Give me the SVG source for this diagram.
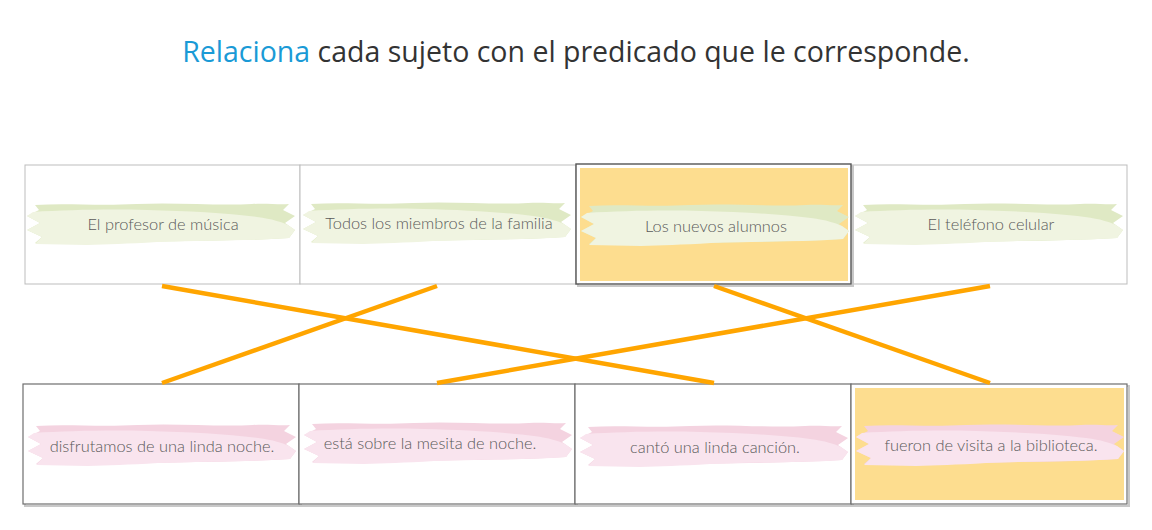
<svg xmlns="http://www.w3.org/2000/svg" xmlns:xlink="http://www.w3.org/1999/xlink" width="1152" height="530" viewBox="0 0 1152 530">
<style>
.title{font-family:"Open Sans","Noto Sans",sans-serif;font-size:28.5px;fill:#333}
.hl{fill:#1a9ad6}
.lbl{font-family:Lato,"Noto Sans",sans-serif;font-size:16.4px;font-weight:300;fill:#5a5a5a;text-anchor:middle}
.boxT{fill:#fff;stroke:#bdbdbd;stroke-width:1}
.boxB{fill:#fff;stroke:#6e6e6e;stroke-width:1.2}
.boxS{fill:#fff;stroke:#555;stroke-width:1.4}
.shadow{fill:none;stroke:#c8c8c8;stroke-width:2}
.sel{fill:#fddd8f}
.gBack{fill:#dfe9c4}
.gFront{fill:#f0f4e1}
.pBack{fill:#f4d3e0}
.pFront{fill:#f9e4ee}
.conn{stroke:#ffa500;stroke-width:4.5;stroke-linecap:butt;fill:none}
</style>
<defs>
<path id="bBack" d="M8,1 C40,-1 70,2 110,0 C150,-2 190,2 225,0 C240,-1 252,1 262,0 L256,6 L268,12 L258,19 L268,26 L262,34 C200,38 130,36 70,40 L8,39 L15,33 L0,26 L13,19 L0,12 L12,6 Z"/>
<path id="bFront" d="M6,8 C40,6 80,5 120,6 C160,7 200,9 230,13 C245,15 255,18 261,21 L268,26 L262,34 C220,37 180,36 130,38 C100,40 80,40 60,41 L8,40 L15,33 L0,26 L13,19 L0,12 Z"/>
</defs>
<text class="title" x="576" y="62" text-anchor="middle"><tspan class="hl">Relaciona</tspan> cada sujeto con el predicado que le corresponde.</text>

<g id="s1">
<rect class="boxT" x="25" y="165" width="275" height="119"/>
<use xlink:href="#bBack" class="gBack" transform="translate(27,204)"/>
<use xlink:href="#bFront" class="gFront" transform="translate(27,204)"/>
<text class="lbl" x="163" y="230">El profesor de música</text>
</g>
<g id="s2">
<rect class="boxT" x="300" y="165" width="276" height="119"/>
<use xlink:href="#bBack" class="gBack" transform="translate(303,203)"/>
<use xlink:href="#bFront" class="gFront" transform="translate(303,203)"/>
<text class="lbl" x="439" y="229">Todos los miembros de la familia</text>
</g>
<g id="s4">
<rect class="boxT" x="852" y="165" width="275" height="119"/>
<use xlink:href="#bBack" class="gBack" transform="translate(855,204)"/>
<use xlink:href="#bFront" class="gFront" transform="translate(855,204)"/>
<text class="lbl" x="991" y="230">El teléfono celular</text>
</g>
<g id="s3">
<rect class="shadow" x="578" y="166" width="275" height="120"/>
<rect class="boxS" x="576" y="164" width="275" height="120"/>
<rect class="sel" x="580" y="168" width="268" height="113"/>
<use xlink:href="#bBack" class="gBack" transform="translate(581,205)"/>
<use xlink:href="#bFront" class="gFront" transform="translate(581,205)"/>
<text class="lbl" x="716" y="232">Los nuevos alumnos</text>
</g>

<g id="p1">
<rect class="shadow" x="25" y="386" width="275" height="120"/>
<rect class="boxB" x="23" y="384" width="276" height="120"/>
<use xlink:href="#bBack" class="pBack" transform="translate(28,425)"/>
<use xlink:href="#bFront" class="pFront" transform="translate(28,425)"/>
<text class="lbl" x="162" y="452">disfrutamos de una linda noche.</text>
</g>
<g id="p2">
<rect class="shadow" x="301" y="386" width="275" height="120"/>
<rect class="boxB" x="299" y="384" width="276" height="120"/>
<use xlink:href="#bBack" class="pBack" transform="translate(304,423)"/>
<use xlink:href="#bFront" class="pFront" transform="translate(304,423)"/>
<text class="lbl" x="430" y="449">está sobre la mesita de noche.</text>
</g>
<g id="p3">
<rect class="shadow" x="577" y="386" width="275" height="120"/>
<rect class="boxB" x="575" y="384" width="276" height="120"/>
<use xlink:href="#bBack" class="pBack" transform="translate(580,426)"/>
<use xlink:href="#bFront" class="pFront" transform="translate(580,426)"/>
<text class="lbl" x="715" y="453">cantó una linda canción.</text>
</g>
<g id="p4">
<rect class="shadow" x="853" y="386" width="276" height="120"/>
<rect class="boxB" x="851" y="384" width="276" height="120"/>
<rect class="sel" x="855" y="388" width="269" height="112"/>
<use xlink:href="#bBack" class="pBack" transform="translate(856,425)"/>
<use xlink:href="#bFront" class="pFront" transform="translate(856,425)"/>
<text class="lbl" x="991" y="451">fueron de visita a la biblioteca.</text>
</g>

<g id="connectors">
<line class="conn" x1="162" y1="286" x2="714" y2="383"/>
<line class="conn" x1="437" y1="286" x2="162" y2="383"/>
<line class="conn" x1="714" y1="286" x2="990" y2="383"/>
<line class="conn" x1="990" y1="286" x2="437" y2="383"/>
</g>
</svg>
